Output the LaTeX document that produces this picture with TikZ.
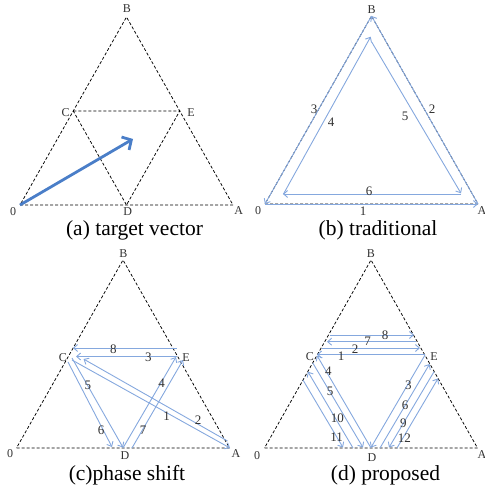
\documentclass[tikz,border=0pt]{standalone}
\usepackage{fontspec}
\setmainfont{Liberation Serif}
\usetikzlibrary{arrows.meta}
\definecolor{lb}{RGB}{133,168,222}
\definecolor{vb}{RGB}{74,126,200}
\definecolor{tx}{RGB}{50,50,50}
\newcommand\mytri[1]{%
  \coordinate (#1O) at (0,0);
  \coordinate (#1A) at (213,0);
  \coordinate (#1B) at (106.5,188);
  \coordinate (#1C) at (53.25,94);
  \coordinate (#1E) at (159.75,94);
  \coordinate (#1D) at (106.5,0);
  \draw[dsh] (#1O) -- (#1A) -- (#1B) -- cycle;}
\begin{document}
\begin{tikzpicture}[x=1pt,y=1pt,
  dsh/.style={black,line width=0.75pt,dash pattern=on 3pt off 2pt},
  bl/.style={lb,line width=0.9pt,-{Straight Barb[length=4pt,width=7pt]}},
  lbl/.style={tx,font=\fontsize{12}{12}\selectfont,inner sep=0pt},
  num/.style={tx,font=\fontsize{13}{13}\selectfont,inner sep=0pt},
  captxt/.style={black,font=\fontsize{21.5}{22}\selectfont,inner sep=0pt}]
\useasboundingbox (0,0) rectangle (485,491);

% ---------- (a) ----------
\begin{scope}[shift={(20,286)}]
  \mytri{a}
  \draw[dsh] (aC) -- (aE) -- (aD) -- cycle;
  \coordinate (aT) at (113,66);
  \draw[vb,line width=2.8pt,-{Straight Barb[length=7pt,width=15pt]}] (aO) -- (aT);
  \node[lbl] (laB) at (107,196) {B};
  \node[lbl] (laC) at (45.7,92) {C};
  \node[lbl] (laE) at (171,92) {E};
  \node[lbl] (laO) at (-7,-7) {0};
  \node[lbl] (laD) at (107.7,-7) {D};
  \node[lbl] (laA) at (218.7,-6) {A};
  \node[captxt] (capa) at (114.5,-25) {(a) target vector};
\end{scope}

% ---------- (b) ----------
\begin{scope}[shift={(265,287)}]
  \mytri{b}
  \draw[bl] (bO) -- (bA);
  \draw[bl] (bA) -- (bB);
  \draw[bl] (bB) -- (bO);
  \coordinate (b4s) at (18.3,9.7);
  \coordinate (b4e) at (105.7,167.3);
  \coordinate (b5s) at (106.7,162);
  \coordinate (b5e) at (196,10.7);
  \coordinate (b6s) at (196,10);
  \coordinate (b6e) at (18,10);
  \draw[bl] (b4s) -- (b4e);
  \draw[bl] (b5s) -- (b5e);
  \draw[bl] (b6s) -- (b6e);
  \node[num] (nb1) at (98,-7) {1};
  \node[num] (nb2) at (167,95) {2};
  \node[num] (nb3) at (49,95) {3};
  \node[num] (nb4) at (66,82) {4};
  \node[num] (nb5) at (140,88) {5};
  \node[num] (nb6) at (104,13) {6};
  \node[lbl] (lbB) at (106.7,194) {B};
  \node[lbl] (lbO) at (-7,-7) {0};
  \node[lbl] (lbA) at (217,-7) {A};
  \node[captxt] (capb) at (113,-26) {(b) traditional};
\end{scope}

% ---------- (c) ----------
\begin{scope}[shift={(16.5,43)}]
  \mytri{c}
  \coordinate (c8s) at (160.2,100);  \coordinate (c8e) at (56.5,100);
  \coordinate (c3s) at (160.2,91.5); \coordinate (c3e) at (59.5,91.5);
  \coordinate (c2s) at (211,7);      \coordinate (c2e) at (67,89);
  \coordinate (c1s) at (55.5,88);    \coordinate (c1e) at (213.5,0);
  \coordinate (c5s) at (55.5,90);    \coordinate (c5e) at (106.5,0.5);
  \coordinate (c6s) at (51.5,86);    \coordinate (c6e) at (95.5,1);
  \coordinate (c4s) at (106.5,0);    \coordinate (c4e) at (159.5,91);
  \coordinate (c7s) at (115.5,0);    \coordinate (c7e) at (166.5,88);
  \draw[bl] (c1s) -- (c1e);
  \draw[bl] (c2s) -- (c2e);
  \draw[bl] (c3s) -- (c3e);
  \draw[bl] (c4s) -- (c4e);
  \draw[bl] (c5s) -- (c5e);
  \draw[bl] (c6s) -- (c6e);
  \draw[bl] (c7s) -- (c7e);
  \draw[bl] (c8s) -- (c8e);
  \node[num] (nc1) at (150.2,32) {1};
  \node[num] (nc2) at (181.5,28) {2};
  \node[num] (nc3) at (131.8,90.3) {3};
  \node[num] (nc4) at (145.2,65) {4};
  \node[num] (nc5) at (71.5,63) {5};
  \node[num] (nc6) at (84.5,18) {6};
  \node[num] (nc7) at (126.5,18) {7};
  \node[num] (nc8) at (96.8,98.7) {8};
  \node[lbl] (lcB) at (106.8,194) {B};
  \node[lbl] (lcC) at (46.5,90) {C};
  \node[lbl] (lcE) at (169.5,90) {E};
  \node[lbl] (lcO) at (-6.5,-6) {0};
  \node[lbl] (lcD) at (108.5,-8) {D};
  \node[lbl] (lcA) at (219.5,-6) {A};
  \node[captxt] (capc) at (110.5,-27) {(c)phase shift};
\end{scope}

% ---------- (d) ----------
\begin{scope}[shift={(264.5,43)}]
  \mytri{d}
  % horizontal
  \coordinate (d8s) at (65.5,113);   \coordinate (d8e) at (149.5,113);
  \coordinate (d7s) at (151.5,106.3);\coordinate (d7e) at (62.5,106.3);
  \coordinate (d2s) at (57.5,100);   \coordinate (d2e) at (155.5,100);
  \coordinate (d1s) at (160.5,93.5); \coordinate (d1e) at (52.5,93.5);
  % left group
  \coordinate (d4s) at (106.5,0);    \coordinate (d4e) at (52.5,92.5);
  \coordinate (d5s) at (48.3,85);    \coordinate (d5e) at (98.5,0.5);
  \coordinate (d10s) at (88.5,0);    \coordinate (d10e) at (43.4,76.3);
  \coordinate (d11s) at (38.5,68);   \coordinate (d11e) at (78.5,0.5);
  % right group
  \coordinate (d3s) at (160.5,93);   \coordinate (d3e) at (106.5,0.5);
  \coordinate (d6s) at (115.5,0);    \coordinate (d6e) at (165.1,84);
  \coordinate (d9s) at (169.5,76.3); \coordinate (d9e) at (124.5,0.5);
  \coordinate (d12s) at (132.5,0);   \coordinate (d12e) at (173.5,69.5);
  \foreach \k in {1,2,3,4,5,6,7,8,9,10,11,12}{\draw[bl] (d\k s) -- (d\k e);}
  \node[num] (nd1) at (76.5,92) {1};
  \node[num] (nd2) at (90.5,99) {2};
  \node[num] (nd7) at (103.2,106.3) {7};
  \node[num] (nd8) at (120.5,113) {8};
  \node[num] (nd4) at (63.8,76.3) {4};
  \node[num] (nd5) at (65.5,56.3) {5};
  \node[num] (nd10) at (72.8,29.7) {10};
  \node[num] (nd11) at (72.2,10.3) {11};
  \node[num] (nd3) at (143.8,63) {3};
  \node[num] (nd6) at (140.5,43) {6};
  \node[num] (nd9) at (138.8,24.7) {9};
  \node[num] (nd12) at (139.8,9.7) {12};
  \node[lbl] (ldB) at (106.5,194) {B};
  \node[lbl] (ldC) at (45.5,91) {C};
  \node[lbl] (ldE) at (169.5,91) {E};
  \node[lbl] (ldO) at (-7.5,-8) {0};
  \node[lbl] (ldD) at (107.5,-10) {D};
  \node[lbl] (ldA) at (217.5,-7) {A};
  \node[captxt] (capd) at (121,-27) {(d) proposed};
\end{scope}
\end{tikzpicture}
\end{document}
